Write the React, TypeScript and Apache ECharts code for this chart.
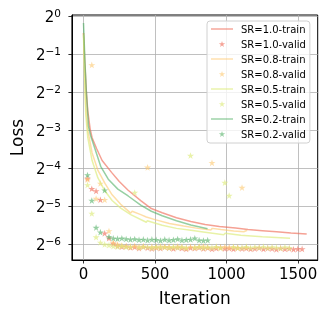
import React, { useEffect, useRef } from "react";
import * as echarts from "echarts";

// Loss values are stored as log2(loss) (the chart is on a log2 axis)
const yTicks = [-6, -5, -4, -3, -2, -1, 0];
const xTicks = [0, 500, 1000, 1500];

const trainIters10 = [0, 10, 20, 30, 46, 60, 92, 130, 196, 250, 312, 400, 474, 550, 650, 750, 850, 950, 1063, 1150, 1250, 1350, 1450, 1560];
const trainLoss10 = [-0.45, -1.3, -2.0, -2.5, -2.96, -3.2, -3.49, -3.8, -4.11, -4.35, -4.58, -4.85, -5.06, -5.17, -5.3, -5.4, -5.48, -5.53, -5.57, -5.61, -5.64, -5.67, -5.7, -5.73];

const trainIters08 = [0, 8, 16, 30, 60, 100, 150, 200, 260, 330, 340, 400, 439, 500, 600, 700, 800, 890, 900, 960, 1050, 1120, 1144];
const trainLoss08 = [-0.45, -1.5, -2.4, -3.0, -3.6, -4.05, -4.4, -4.7, -4.95, -5.18, -5.13, -5.22, -5.28, -5.35, -5.45, -5.52, -5.58, -5.62, -5.58, -5.61, -5.65, -5.67, -5.63];

const trainIters05 = [0, 8, 16, 30, 60, 100, 150, 200, 260, 330, 439, 445, 550, 650, 750, 850, 980, 990, 1100, 1250, 1444];
const trainLoss05 = [-0.5, -1.7, -2.6, -3.2, -3.8, -4.25, -4.6, -4.85, -5.05, -5.22, -5.42, -5.38, -5.5, -5.58, -5.63, -5.68, -5.75, -5.71, -5.76, -5.8, -5.84];

const trainIters02 = [0, 10, 20, 35, 50, 80, 120, 173, 240, 312, 400, 474, 550, 650, 750, 867];
const trainLoss02 = [-0.19, -1.2, -2.0, -2.9, -3.15, -3.49, -3.95, -4.29, -4.55, -4.73, -4.97, -5.13, -5.25, -5.38, -5.49, -5.59];

const validIters = [28, 58, 88, 118, 148, 178, 208, 238, 268, 298, 328, 358, 388, 418, 448, 478, 508, 538, 568, 598, 628, 658, 688, 718, 748, 778, 808, 838, 868, 898, 928, 958, 988, 1018, 1048, 1078, 1108, 1138, 1168, 1198, 1228, 1258, 1288, 1318, 1348, 1378, 1408, 1438, 1468, 1498, 1528];

const validLoss10 = [-4.27, -4.54, -4.6, -4.83, -5.71, -5.84, -5.98, -6.04, -6.06, -6.05, -6.08, -6.07, -6.1, -6.06, -6.09, -6.11, -6.08, -6.1, -6.07, -6.09, -6.11, -6.08, -6.1, -6.12, -6.09, -6.1, -6.08, -6.11, -6.09, -6.12, -6.1, -6.08, -6.11, -6.1, -6.12, -6.09, -6.11, -6.1, -6.12, -6.11, -6.09, -6.12, -6.1, -6.11, -6.13, -6.1, -6.12, -6.11, -6.13, -6.12, -6.12];

const validLoss08 = [-4.3, -1.29, -4.8, -4.4, -4.83, -5.65, -5.95, -6.0, -6.03, -6.05, -6.06, -6.04, -6.07, -6.05, -3.98, -6.06, -6.08, -6.05, -6.07, -6.06, -6.08, -6.05, -6.07, -6.09, -6.06, -6.08, -6.07, -6.05, -6.08, -3.86, -6.07, -6.09, -6.06, -6.08, -6.07, -6.09, -4.51, -6.08];

const validLoss05 = [-4.44, -5.19, -5.81, -5.95, -6.0, -6.02, -6.05, -6.06, -6.04, -6.07, -6.06, -4.64, -6.08, -6.06, -6.07, -6.09, -6.06, -6.08, -6.07, -6.09, -6.06, -6.08, -6.07, -6.09, -3.67, -6.08, -6.06, -6.09, -6.07, -6.08, -6.06, -6.09, -4.38, -4.72, -6.07, -6.09, -6.08, -6.06, -6.09, -6.07, -6.08, -6.06, -6.09, -6.07, -6.08, -6.1, -6.07, -6.09];

const validLoss02 = [-4.18, -4.85, -5.56, -5.68, -4.58, -5.8, -5.84, -5.85, -5.84, -5.86, -5.87, -5.86, -5.88, -5.87, -5.89, -5.87, -5.88, -5.9, -5.87, -5.89, -5.88, -5.86, -5.89, -5.88, -5.87, -5.84, -5.89, -5.9, -5.89];

const seriesNames = ["SR=1.0", "SR=0.8", "SR=0.5", "SR=0.2"];
const lineColors = ["rgba(240,110,90,0.65)", "rgba(253,200,110,0.6)", "rgba(222,236,130,0.7)", "rgba(80,175,100,0.6)"];
const starColors = ["rgba(240,110,90,0.8)", "rgba(253,200,110,0.75)", "rgba(222,236,130,0.85)", "rgba(80,175,100,0.75)"];

const STAR = "path://M0,-1 L0.2245,-0.309 L0.951,-0.309 L0.363,0.118 L0.588,0.809 L0,0.382 L-0.588,0.809 L-0.363,0.118 L-0.951,-0.309 L-0.2245,-0.309 Z";
// thin horizontal bar inside a 22x6 bounding box (zero-length segments set the box)
const LINE_ICON = "path://M0,0 L0,0 M0,6 L0,6 M22,0 L22,0 M0,2.3 L22,2.3 L22,3.7 L0,3.7 Z";
const FONT = "DejaVu Sans";

function zip(xs: number[], ys: number[]) {
  return ys.map((y, i) => [xs[i], y]);
}

export default function App() {
  const ref = useRef<HTMLDivElement>(null);
  useEffect(() => {
    if (!ref.current) return;
    const chart = echarts.init(ref.current, undefined, { renderer: "svg" });
    const trains = [
      zip(trainIters10, trainLoss10),
      zip(trainIters08, trainLoss08),
      zip(trainIters05, trainLoss05),
      zip(trainIters02, trainLoss02),
    ];
    const valids = [
      zip(validIters, validLoss10),
      zip(validIters, validLoss08),
      zip(validIters, validLoss05),
      zip(validIters, validLoss02),
    ];
    const series: any[] = [];
    const legendData: any[] = [];
    seriesNames.forEach((n, i) => {
      series.push({
        name: n + "-train",
        type: "line",
        data: trains[i],
        symbol: "none",
        showSymbol: false,
        lineStyle: { color: lineColors[i], width: 1.5 },
        itemStyle: { color: lineColors[i] },
        z: 2 + i * 2,
      });
      series.push({
        name: n + "-valid",
        type: "scatter",
        data: valids[i],
        symbol: STAR,
        symbolSize: 7,
        symbolKeepAspect: true,
        itemStyle: { color: starColors[i] },
        z: 3 + i * 2,
      });
      legendData.push({ name: n + "-train", icon: LINE_ICON }, { name: n + "-valid" });
    });

    const yFmt = (v: number) => {
      if (Math.abs(v - Math.round(v)) > 1e-6) return "";
      const r = Math.round(v);
      return "{b|2}{s|" + (r === 0 ? "0" : "\u2212" + String(-r)) + "}";
    };

    chart.setOption({
      animation: false,
      textStyle: { fontFamily: FONT },
      grid: { left: 70, top: 15, right: 10.3, bottom: 59, show: true, borderColor: "#000", borderWidth: 1, backgroundColor: "transparent" },
      legend: {
        data: legendData,
        orient: "vertical",
        left: 207,
        top: 21,
        itemWidth: 22,
        itemHeight: 6,
        itemGap: 3,
        padding: [2, 4, 3, 4],
        backgroundColor: "rgba(255,255,255,0.8)",
        borderColor: "#d0d0d0",
        borderWidth: 1,
        borderRadius: 3,
        textStyle: { fontFamily: FONT, fontSize: 10, color: "#000", lineHeight: 12, padding: [0, 0, 0, 3] },
      },
      xAxis: {
        type: "value",
        min: -81,
        max: 1637,
        splitNumber: 4,
        name: "Iteration",
        nameLocation: "middle",
        nameGap: 29,
        nameTextStyle: { fontFamily: FONT, fontSize: 17, color: "#000" },
        axisLine: { show: true, onZero: false, lineStyle: { color: "#000", width: 1 } },
        axisTick: { show: true, inside: false, length: 3.5, customValues: xTicks, lineStyle: { color: "#000", width: 0.8 } },
        axisLabel: {
          customValues: xTicks,
          margin: 6,
          fontFamily: FONT,
          fontSize: 15,
          color: "#000",
          formatter: (v: number) => (xTicks.indexOf(v) >= 0 ? String(v) : ""),
        },
        splitLine: { show: true, lineStyle: { color: "#b0b0b0", width: 0.8 } },
      },
      yAxis: {
        type: "value",
        min: -6.41,
        max: 0.02,
        splitNumber: 7,
        name: "Loss",
        nameLocation: "middle",
        nameGap: 45,
        nameRotate: 90,
        nameTextStyle: { fontFamily: FONT, fontSize: 17, color: "#000" },
        axisLine: { show: true, onZero: false, lineStyle: { color: "#000", width: 1 } },
        axisTick: { show: true, inside: false, length: 3.5, customValues: yTicks, lineStyle: { color: "#000", width: 0.8 } },
        axisLabel: {
          customValues: yTicks,
          margin: 11,
          color: "#000",
          formatter: yFmt,
          rich: {
            b: { fontFamily: FONT, fontSize: 15, color: "#000", verticalAlign: "bottom", lineHeight: 17 },
            s: { fontFamily: FONT, fontSize: 10.5, color: "#000", verticalAlign: "top", lineHeight: 17, padding: [0, 0, 6, 0] },
          },
        },
        splitLine: { show: true, lineStyle: { color: "#b0b0b0", width: 0.8 } },
      },
      series,
    });
    return () => chart.dispose();
  }, []);
  return <div ref={ref} style={{ position: "fixed", left: 0, top: 0, width: 328, height: 319 }} />;
}
